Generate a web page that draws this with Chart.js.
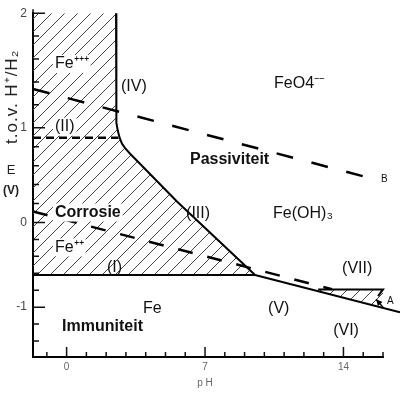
<!DOCTYPE html>
<html>
<head>
<meta charset="utf-8">
<script src="https://cdn.jsdelivr.net/npm/chart.js@4.4.1/dist/chart.umd.min.js"></script>
<style>
  html, body { margin: 0; padding: 0; background: #fff; }
  canvas { display: block; }
</style>
</head>
<body>
<canvas id="pourbaix" width="400" height="393"></canvas>
<script>
// --- data: pH on x, E (V vs H+/H2) on y ---
const xTickVals = [0, 7, 14];
const yTickVals = [-1, 0, 1, 2];

// (IV) + bend + (III): Fe3+ / Fe2+ -> Fe(OH)3
const bIIIpH = [2.50, 2.50, 2.51, 2.54, 2.59, 2.68, 2.80, 2.98, 3.21, 3.61, 5.58, 9.53];
const bIIIE  = [2.00, 1.235, 1.130, 1.043, 0.968, 0.895, 0.832, 0.779, 0.726, 0.642, 0.221, -0.62];
// (I) Fe / Fe2+
const bIpH = [-1.7, 9.53];
const bIE  = [-0.62, -0.62];
// (V) Fe / Fe(OH)2
const bVpH = [9.53, 16.86];
const bVE  = [-0.62, -1.06];
// (VII) small zone top + right edge
const bVIIpH = [12.72, 16.0, 15.75];
const bVIIE  = [-0.79, -0.79, -0.87];
// (II) Fe3+ / Fe2+ (dashed)
const bIIpH = [-1.7, 2.62];
const bIIE  = [0.895, 0.895];
// water lines A and B (dashed)
const lineApH = [-1.7, 13.42];
const lineAE  = [0.116, -0.788];
const lineBpH = [-1.7, 15.45];
const lineBE  = [1.339, 0.463];
// hatched zones
const corrPH = [-1.7, ...bIIIpH, -1.7, -1.7];
const corrE  = [2.0, ...bIIIE, -0.62, 2.0];
const smallPH = [12.31, 16.0, 16.0, 12.31];
const smallE  = [-0.79, -0.79, -1.007, -0.79];

// arrow A
const arrowPH = [16.0, 15.65];
const arrowE  = [-1.0, -0.906];

// texts in the diagram
const zoneNames = ['Fe⁺⁺⁺', '(IV)', '(II)', 'FeO4⁻⁻', 'Fe(OH)₃', '(III)', 'Fe⁺⁺', '(I)', '(VII)', 'Fe', '(V)', '(VI)'];
const zonePH    = [-0.59, 2.75, -0.59, 10.49, 10.44, 6.04, -0.59, 2.04, 13.93, 3.86, 10.19, 13.48];
const zoneE     = [1.557, 1.357, 1.009, 1.383, 0.095, 0.095, -0.294, -0.529, -0.541, -1.012, -1.012, -1.282];
const regionNames = ['Passiviteit', 'Corrosie', 'Immuniteit'];
const regionPH    = [6.24, -0.59, -0.23];
const regionE     = [0.663, 0.105, -1.235];
const lineTags   = ['B', 'A'];
const lineTagPH  = [15.9, 16.2];
const lineTagE   = [0.453, -0.929];

const boxed = ['Fe⁺⁺⁺', '(II)', 'Corrosie', 'Fe⁺⁺'];
const FONT = '"Liberation Sans", Arial, sans-serif';

// --- E axis of the original figure is not evenly spaced: piecewise scale ---
const eKnots = [-1.59, -1, 0, 1, 2];
const eFrac  = [0, 0.1449, 0.3913, 0.6667, 1];

function interp(v, xs, ys) {
    let i = 0;
    while (i < xs.length - 2 && v > xs[i + 1]) i++;
    return ys[i] + (v - xs[i]) * (ys[i + 1] - ys[i]) / (xs[i + 1] - xs[i]);
}

class BentScale extends Chart.LinearScale {
    static id = 'bent';
    static defaults = {};
    getPixelForValue(v) {
        if (v === null || v === undefined) return NaN;
        return this.getPixelForDecimal(interp(v, eKnots, eFrac));
    }
    getValueForPixel(p) {
        return interp(this.getDecimalForPixel(p), eFrac, eKnots);
    }
}
Chart.register(BentScale);

const pts = (xs, ys) => xs.map((v, i) => ({ x: v, y: ys[i] }));

function makeHatch() {
    const s = 13;
    const c = document.createElement('canvas');
    c.width = s; c.height = s;
    const g = c.getContext('2d');
    g.strokeStyle = '#444';
    g.lineWidth = 1;
    g.beginPath();
    g.moveTo(0, s); g.lineTo(s, 0);
    g.moveTo(-s / 2, s / 2); g.lineTo(s / 2, -s / 2);
    g.moveTo(s / 2, s * 1.5); g.lineTo(s * 1.5, s / 2);
    g.stroke();
    return g.createPattern(c, 'repeat');
}
const hatch = makeHatch();

const solid = { borderColor: '#000', borderWidth: 2, pointRadius: 0, fill: false, tension: 0, clip: false };
const dashed = { ...solid, borderWidth: 2.5 };
const zone = { borderColor: 'rgba(0,0,0,0)', borderWidth: 1, pointRadius: 0, backgroundColor: hatch, fill: 'shape', tension: 0 };

// --- texts, tick marks, arrow ---
const marks = {
    id: 'marks',
    afterDatasetsDraw(chart) {
        const { ctx, scales: { x, y }, chartArea: a } = chart;
        ctx.save();

        // inward tick marks
        ctx.strokeStyle = '#111';
        ctx.lineWidth = 1.5;
        ctx.beginPath();
        for (let p = -1; p <= 16; p++) {
            const len = p % 7 === 0 ? 10 : 5;
            const px = x.getPixelForValue(p);
            ctx.moveTo(px, a.bottom); ctx.lineTo(px, a.bottom - len);
        }
        for (let k = -7; k <= 10; k++) {
            const len = k % 5 === 0 ? 12 : 6;
            const py = y.getPixelForValue(k / 5);
            ctx.moveTo(a.left, py); ctx.lineTo(a.left + len, py);
        }
        // axis runs a little past E = 2
        ctx.moveTo(a.left, a.top); ctx.lineTo(a.left, a.top - 4);
        ctx.stroke();

        // arrow A
        const x0 = x.getPixelForValue(arrowPH[0]), y0 = y.getPixelForValue(arrowE[0]);
        const x1 = x.getPixelForValue(arrowPH[1]), y1 = y.getPixelForValue(arrowE[1]);
        const ang = Math.atan2(y1 - y0, x1 - x0);
        ctx.beginPath();
        ctx.moveTo(x0, y0); ctx.lineTo(x1, y1);
        ctx.stroke();
        ctx.fillStyle = '#000';
        ctx.beginPath();
        ctx.moveTo(x1, y1);
        ctx.lineTo(x1 - 7 * Math.cos(ang - 0.45), y1 - 7 * Math.sin(ang - 0.45));
        ctx.lineTo(x1 - 7 * Math.cos(ang + 0.45), y1 - 7 * Math.sin(ang + 0.45));
        ctx.closePath();
        ctx.fill();

        // labels
        ctx.textAlign = 'left';
        ctx.textBaseline = 'middle';
        const put = (txt, ph, e, font) => {
            const px = x.getPixelForValue(ph), py = y.getPixelForValue(e);
            ctx.font = font;
            if (boxed.includes(txt)) {
                const w = ctx.measureText(txt).width;
                ctx.fillStyle = '#fff';
                ctx.fillRect(px - 2, py - 9, w + 4, 18);
            }
            ctx.fillStyle = '#111';
            ctx.fillText(txt, px, py);
        };
        zoneNames.forEach((t, i) => put(t, zonePH[i], zoneE[i], '16px ' + FONT));
        regionNames.forEach((t, i) => put(t, regionPH[i], regionE[i], 'bold 16px ' + FONT));
        lineTags.forEach((t, i) => put(t, lineTagPH[i], lineTagE[i], '10px ' + FONT));

        // axis titles
        ctx.fillStyle = '#222';
        ctx.textAlign = 'center';
        ctx.font = '17px ' + FONT;
        ctx.save();
        ctx.translate(12, y.getPixelForValue(1.27));
        ctx.rotate(-Math.PI / 2);
        ctx.letterSpacing = '1px';
        ctx.fillText('t.o.v. H⁺/H₂', 0, 0);
        ctx.restore();
        ctx.font = '13px ' + FONT;
        ctx.fillText('E', 11, y.getPixelForValue(0.547));
        ctx.font = 'bold 12px ' + FONT;
        ctx.fillText('(V)', 11, y.getPixelForValue(0.337));
        ctx.fillStyle = '#666';
        ctx.font = '10px ' + FONT;
        ctx.fillText('p H', x.getPixelForValue(7), a.bottom + 26);

        ctx.restore();
    }
};

new Chart(document.getElementById('pourbaix'), {
    type: 'line',
    data: {
        datasets: [
            { ...solid, data: pts(bIIIpH, bIIIE) },
            { ...solid, data: pts(bIpH, bIE) },
            { ...solid, data: pts(bVpH, bVE) },
            { ...solid, data: pts(bVIIpH, bVIIE) },
            { ...dashed, borderDash: [8, 5], data: pts(bIIpH, bIIE) },
            { ...dashed, borderDash: [15, 15], data: pts(lineApH, lineAE) },
            { ...dashed, borderDash: [17, 19], data: pts(lineBpH, lineBE) },
            { ...zone, data: pts(corrPH, corrE) },
            { ...zone, data: pts(smallPH, smallE) }
        ]
    },
    options: {
        responsive: false,
        devicePixelRatio: 1,
        animation: false,
        events: [],
        layout: { padding: { top: 12, right: 17, left: 0, bottom: 0 } },
        plugins: { legend: { display: false }, tooltip: { enabled: false } },
        scales: {
            x: {
                type: 'linear', min: -1.7, max: 16,
                grid: { display: false, drawTicks: false },
                border: { display: true, color: '#000', width: 2 },
                ticks: { color: '#666', padding: 4, font: { size: 10, family: FONT } },
                afterBuildTicks: s => { s.ticks = xTickVals.map(v => ({ value: v })); },
                afterFit: s => { s.height = 36; }
            },
            y: {
                type: 'bent', min: -1.59, max: 2,
                grid: { display: false, drawTicks: false },
                border: { display: true, color: '#000', width: 2 },
                ticks: { color: '#444', padding: 6, font: { size: 12, family: FONT } },
                afterBuildTicks: s => { s.ticks = yTickVals.map(v => ({ value: v })); },
                afterFit: s => { s.width = 33; }
            }
        }
    },
    plugins: [marks]
});
</script>
</body>
</html>
